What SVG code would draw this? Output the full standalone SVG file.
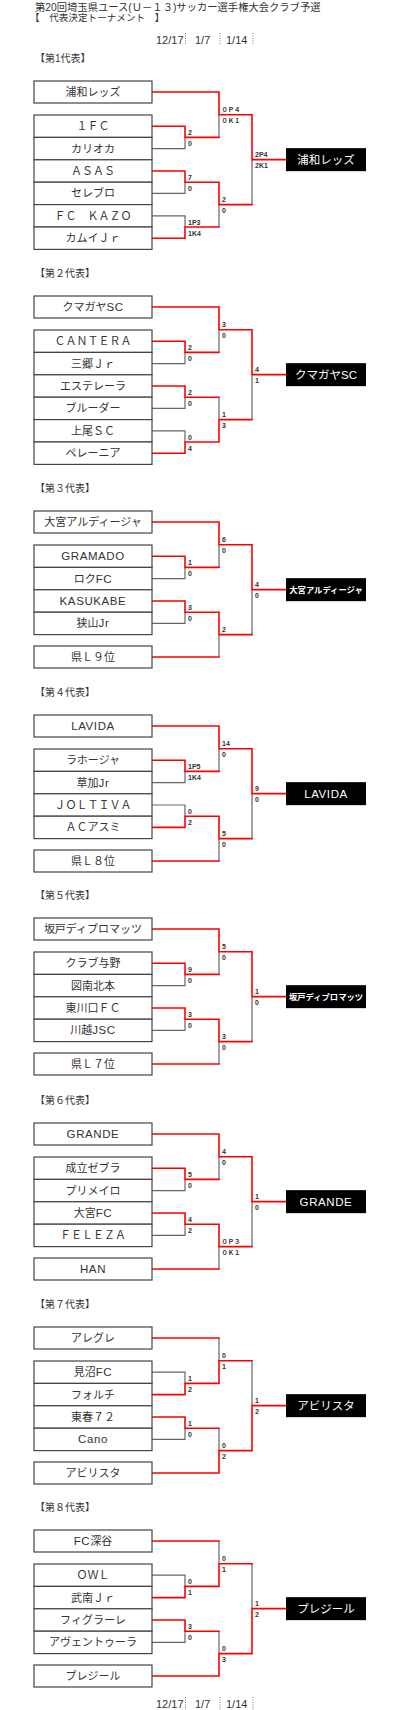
<svg xmlns="http://www.w3.org/2000/svg" width="400" height="1710" viewBox="0 0 400 1710">
<style>
text{font-family:"Liberation Sans","Noto Sans CJK JP",sans-serif;fill:#333}
.box{fill:#fff;stroke:#444;stroke-width:1.2}
.fin{fill:#000}
.t{font-size:11px;text-anchor:middle}
.l{font-size:11.5px;letter-spacing:0.6px}
.ft{font-size:11.5px;text-anchor:middle;fill:#fff}
.fs{font-size:8.3px;font-weight:bold;text-anchor:middle;fill:#fff}
.s{font-size:7px;font-weight:bold}
.w{font-size:6.3px}
.h{font-size:10px}
.d{font-size:11px}
.r{stroke:#f00;stroke-width:1.6;fill:none;stroke-linecap:square}
.g{stroke:#666;stroke-width:1.2;fill:none}
.dot{stroke:#777;stroke-width:1;stroke-dasharray:1 1.5}
</style>
<g id="title">
<text class="h" x="35" y="10.5" style="font-size:10.3px">第20回埼玉県ユース(Ｕ－１３)サッカー選手権大会クラブ予選</text>
<text class="h" x="30" y="21" style="font-size:9.6px">【　代表決定トーナメント　】</text>
</g>
<g id="dates-top">
<text class="d" x="156" y="44">12/17</text>
<text class="d" x="195" y="44">1/7</text>
<text class="d" x="226" y="44">1/14</text>
<path class="dot" d="M185.5,33V45M220,33V45M253,33V45"/>
</g>
<g id="dates-bottom">
<text class="d" x="156" y="1708">12/17</text>
<text class="d" x="195" y="1708">1/7</text>
<text class="d" x="226" y="1708">1/14</text>
<path class="dot" d="M185.5,1697V1710M220,1697V1710M253,1697V1710"/>
</g>

<g id="connectors">
<g transform="translate(0,81)">
<path class="g" d="M152,67.6H185V56.4M152,112.4H185V101.2M152,134.8H185V146M219,56.4V33.7M219,146V123.6M252,123.6V78.65"/>
<path class="r" d="M152,11H219M152,45.2H185V56.4H219M152,90H185V101.2H219M152,157.2H185V146H219M219,11V33.7H252M219,101.2V123.6H252M252,33.7V78.65H286"/>
</g>
<g transform="translate(0,296)">
<path class="g" d="M152,67.6H185V56.4M152,112.4H185V101.2M152,134.8H185V146M219,56.4V33.7M219,101.2V123.6M252,123.6V78.65"/>
<path class="r" d="M152,11H219M152,45.2H185V56.4H219M152,90H185V101.2H219M152,157.2H185V146H219M219,11V33.7H252M219,146V123.6H252M252,33.7V78.65H286"/>
</g>
<g transform="translate(0,511)">
<path class="g" d="M152,67.6H185V56.4M152,112.4H185V101.2M219,56.4V33.7M219,146V123.6M252,123.6V78.65"/>
<path class="r" d="M152,11H219M152,146H219M152,45.2H185V56.4H219M152,90H185V101.2H219M219,11V33.7H252M219,101.2V123.6H252M252,33.7V78.65H286"/>
</g>
<g transform="translate(0,715)">
<path class="g" d="M152,67.6H185V56.4M152,90H185V101.2M219,56.4V33.7M219,146V123.6M252,123.6V78.65"/>
<path class="r" d="M152,11H219M152,146H219M152,45.2H185V56.4H219M152,112.4H185V101.2H219M219,11V33.7H252M219,101.2V123.6H252M252,33.7V78.65H286"/>
</g>
<g transform="translate(0,918)">
<path class="g" d="M152,67.6H185V56.4M152,112.4H185V101.2M219,56.4V33.7M219,146V123.6M252,123.6V78.65"/>
<path class="r" d="M152,11H219M152,146H219M152,45.2H185V56.4H219M152,90H185V101.2H219M219,11V33.7H252M219,101.2V123.6H252M252,33.7V78.65H286"/>
</g>
<g transform="translate(0,1123)">
<path class="g" d="M152,67.6H185V56.4M152,112.4H185V101.2M219,56.4V33.7M219,146V123.6M252,123.6V78.65"/>
<path class="r" d="M152,11H219M152,146H219M152,45.2H185V56.4H219M152,90H185V101.2H219M219,11V33.7H252M219,101.2V123.6H252M252,33.7V78.65H286"/>
</g>
<g transform="translate(0,1327)">
<path class="g" d="M152,45.2H185V56.4M152,112.4H185V101.2M219,11V33.7M219,101.2V123.6M252,33.7V78.65"/>
<path class="r" d="M152,11H219M152,146H219M152,67.6H185V56.4H219M152,90H185V101.2H219M219,56.4V33.7H252M219,146V123.6H252M252,123.6V78.65H286"/>
</g>
<g transform="translate(0,1530)">
<path class="g" d="M152,45.2H185V56.4M152,112.4H185V101.2M219,11V33.7M219,101.2V123.6M252,33.7V78.65"/>
<path class="r" d="M152,11H219M152,146H219M152,67.6H185V56.4H219M152,90H185V101.2H219M219,56.4V33.7H252M219,146V123.6H252M252,123.6V78.65H286"/>
</g>
</g>

<g id="scores">
<g transform="translate(0,81)">
<text class="s" x="188" y="53.9">2</text><text class="s" x="188" y="64.9">0</text>
<text class="s" x="188" y="98.7">7</text><text class="s" x="188" y="109.7">0</text>
<text class="s" x="188" y="143.5">1P3</text><text class="s" x="188" y="154.5">1K4</text>
<text class="s w" x="221.5" y="31.2">０Ｐ４</text><text class="s w" x="221.5" y="42.2">０Ｋ１</text>
<text class="s" x="222" y="121.1">2</text><text class="s" x="222" y="132.1">0</text>
<text class="s" x="255" y="76.15">2P4</text><text class="s" x="255" y="87.15">2K1</text>
</g>
<g transform="translate(0,296)">
<text class="s" x="188" y="53.9">2</text><text class="s" x="188" y="64.9">0</text>
<text class="s" x="188" y="98.7">2</text><text class="s" x="188" y="109.7">0</text>
<text class="s" x="188" y="143.5">0</text><text class="s" x="188" y="154.5">4</text>
<text class="s" x="222" y="31.2">3</text><text class="s" x="222" y="42.2">0</text>
<text class="s" x="222" y="121.1">1</text><text class="s" x="222" y="132.1">3</text>
<text class="s" x="255" y="76.15">4</text><text class="s" x="255" y="87.15">1</text>
</g>
<g transform="translate(0,511)">
<text class="s" x="188" y="53.9">1</text><text class="s" x="188" y="64.9">0</text>
<text class="s" x="188" y="98.7">3</text><text class="s" x="188" y="109.7">0</text>
<text class="s" x="222" y="31.2">6</text><text class="s" x="222" y="42.2">0</text>
<text class="s" x="222" y="121.1">2</text>
<text class="s" x="255" y="76.15">4</text><text class="s" x="255" y="87.15">0</text>
</g>
<g transform="translate(0,715)">
<text class="s" x="188" y="53.9">1P5</text><text class="s" x="188" y="64.9">1K4</text>
<text class="s" x="188" y="98.7">0</text><text class="s" x="188" y="109.7">2</text>
<text class="s" x="222" y="31.2">14</text><text class="s" x="222" y="42.2">0</text>
<text class="s" x="222" y="121.1">5</text><text class="s" x="222" y="132.1">0</text>
<text class="s" x="255" y="76.15">9</text><text class="s" x="255" y="87.15">0</text>
</g>
<g transform="translate(0,918)">
<text class="s" x="188" y="53.9">9</text><text class="s" x="188" y="64.9">0</text>
<text class="s" x="188" y="98.7">3</text><text class="s" x="188" y="109.7">0</text>
<text class="s" x="222" y="31.2">5</text><text class="s" x="222" y="42.2">0</text>
<text class="s" x="222" y="121.1">3</text><text class="s" x="222" y="132.1">0</text>
<text class="s" x="255" y="76.15">1</text><text class="s" x="255" y="87.15">0</text>
</g>
<g transform="translate(0,1123)">
<text class="s" x="188" y="53.9">5</text><text class="s" x="188" y="64.9">0</text>
<text class="s" x="188" y="98.7">4</text><text class="s" x="188" y="109.7">2</text>
<text class="s" x="222" y="31.2">4</text><text class="s" x="222" y="42.2">0</text>
<text class="s w" x="221.5" y="121.1">０Ｐ３</text><text class="s w" x="221.5" y="132.1">０Ｋ１</text>
<text class="s" x="255" y="76.15">1</text><text class="s" x="255" y="87.15">0</text>
</g>
<g transform="translate(0,1327)">
<text class="s" x="188" y="53.9">1</text><text class="s" x="188" y="64.9">2</text>
<text class="s" x="188" y="98.7">1</text><text class="s" x="188" y="109.7">0</text>
<text class="s" x="222" y="31.2">0</text><text class="s" x="222" y="42.2">1</text>
<text class="s" x="222" y="121.1">0</text><text class="s" x="222" y="132.1">2</text>
<text class="s" x="255" y="76.15">1</text><text class="s" x="255" y="87.15">2</text>
</g>
<g transform="translate(0,1530)">
<text class="s" x="188" y="53.9">0</text><text class="s" x="188" y="64.9">1</text>
<text class="s" x="188" y="98.7">3</text><text class="s" x="188" y="109.7">0</text>
<text class="s" x="222" y="31.2">0</text><text class="s" x="222" y="42.2">1</text>
<text class="s" x="222" y="121.1">0</text><text class="s" x="222" y="132.1">3</text>
<text class="s" x="255" y="76.15">1</text><text class="s" x="255" y="87.15">2</text>
</g>
</g>

<g id="nodes">
<g transform="translate(0,81)">
<text class="h" x="35" y="-19">【第1代表】</text>
<g id="s1-t"><rect class="box" x="34" y="0" width="118" height="22"/><text class="t" x="93" y="15">浦和レッズ</text></g>
<g id="s1-a"><rect class="box" x="34" y="34" width="118" height="22.4"/><text class="t" x="93" y="49.2">１ＦＣ</text></g>
<g id="s1-b"><rect class="box" x="34" y="56.4" width="118" height="22.4"/><text class="t" x="93" y="71.6">カリオカ</text></g>
<g id="s1-c"><rect class="box" x="34" y="78.8" width="118" height="22.4"/><text class="t" x="93" y="94">ＡＳＡＳ</text></g>
<g id="s1-d"><rect class="box" x="34" y="101.2" width="118" height="22.4"/><text class="t" x="93" y="116.4">セレブロ</text></g>
<g id="s1-e"><rect class="box" x="34" y="123.6" width="118" height="22.4"/><text class="t" x="93" y="138.8">ＦＣ　ＫＡＺＯ</text></g>
<g id="s1-f"><rect class="box" x="34" y="146" width="118" height="22.4"/><text class="t" x="93" y="161.2">カムイＪｒ</text></g>
<g id="s1-w"><rect class="fin" x="286" y="67.15" width="80" height="23"/><text class="ft" x="326" y="82.8">浦和レッズ</text></g>
</g>
<g transform="translate(0,296)">
<text class="h" x="35" y="-19">【第２代表】</text>
<g id="s2-t"><rect class="box" x="34" y="0" width="118" height="22"/><text class="t" x="93" y="15">クマガヤ<tspan class="l">SC</tspan></text></g>
<g id="s2-a"><rect class="box" x="34" y="34" width="118" height="22.4"/><text class="t" x="93" y="49.2">ＣＡＮＴＥＲＡ</text></g>
<g id="s2-b"><rect class="box" x="34" y="56.4" width="118" height="22.4"/><text class="t" x="93" y="71.6">三郷Ｊｒ</text></g>
<g id="s2-c"><rect class="box" x="34" y="78.8" width="118" height="22.4"/><text class="t" x="93" y="94">エステレーラ</text></g>
<g id="s2-d"><rect class="box" x="34" y="101.2" width="118" height="22.4"/><text class="t" x="93" y="116.4">ブルーダー</text></g>
<g id="s2-e"><rect class="box" x="34" y="123.6" width="118" height="22.4"/><text class="t" x="93" y="138.8">上尾ＳＣ</text></g>
<g id="s2-f"><rect class="box" x="34" y="146" width="118" height="22.4"/><text class="t" x="93" y="161.2">ペレーニア</text></g>
<g id="s2-w"><rect class="fin" x="286" y="67.15" width="80" height="23"/><text class="ft" x="326" y="82.8">クマガヤSC</text></g>
</g>
<g transform="translate(0,511)">
<text class="h" x="35" y="-19">【第３代表】</text>
<g id="s3-t"><rect class="box" x="34" y="0" width="118" height="22"/><text class="t" x="93" y="15">大宮アルディージャ</text></g>
<g id="s3-a"><rect class="box" x="34" y="34" width="118" height="22.4"/><text class="t l" x="93" y="49.2">GRAMADO</text></g>
<g id="s3-b"><rect class="box" x="34" y="56.4" width="118" height="22.4"/><text class="t" x="93" y="71.6">ロク<tspan class="l">FC</tspan></text></g>
<g id="s3-c"><rect class="box" x="34" y="78.8" width="118" height="22.4"/><text class="t l" x="93" y="94">KASUKABE</text></g>
<g id="s3-d"><rect class="box" x="34" y="101.2" width="118" height="22.4"/><text class="t" x="93" y="116.4">狭山<tspan class="l">Jr</tspan></text></g>
<g id="s3-e"><rect class="box" x="34" y="135" width="118" height="22"/><text class="t" x="93" y="150">県Ｌ９位</text></g>
<g id="s3-w"><rect class="fin" x="286" y="67.15" width="80" height="23"/><text class="fs" x="326" y="81.6">大宮アルディージャ</text></g>
</g>
<g transform="translate(0,715)">
<text class="h" x="35" y="-19">【第４代表】</text>
<g id="s4-t"><rect class="box" x="34" y="0" width="118" height="22"/><text class="t l" x="93" y="15">LAVIDA</text></g>
<g id="s4-a"><rect class="box" x="34" y="34" width="118" height="22.4"/><text class="t" x="93" y="49.2">ラホージャ</text></g>
<g id="s4-b"><rect class="box" x="34" y="56.4" width="118" height="22.4"/><text class="t" x="93" y="71.6">草加<tspan class="l">Jr</tspan></text></g>
<g id="s4-c"><rect class="box" x="34" y="78.8" width="118" height="22.4"/><text class="t" x="93" y="94">ＪＯＬＴＩＶＡ</text></g>
<g id="s4-d"><rect class="box" x="34" y="101.2" width="118" height="22.4"/><text class="t" x="93" y="116.4">ＡＣアスミ</text></g>
<g id="s4-e"><rect class="box" x="34" y="135" width="118" height="22"/><text class="t" x="93" y="150">県Ｌ８位</text></g>
<g id="s4-w"><rect class="fin" x="286" y="67.15" width="80" height="23"/><text class="ft l" x="326" y="83">LAVIDA</text></g>
</g>
<g transform="translate(0,918)">
<text class="h" x="35" y="-19">【第５代表】</text>
<g id="s5-t"><rect class="box" x="34" y="0" width="118" height="22"/><text class="t" x="93" y="15">坂戸ディプロマッツ</text></g>
<g id="s5-a"><rect class="box" x="34" y="34" width="118" height="22.4"/><text class="t" x="93" y="49.2">クラブ与野</text></g>
<g id="s5-b"><rect class="box" x="34" y="56.4" width="118" height="22.4"/><text class="t" x="93" y="71.6">図南北本</text></g>
<g id="s5-c"><rect class="box" x="34" y="78.8" width="118" height="22.4"/><text class="t" x="93" y="94">東川口ＦＣ</text></g>
<g id="s5-d"><rect class="box" x="34" y="101.2" width="118" height="22.4"/><text class="t" x="93" y="116.4">川越<tspan class="l">JSC</tspan></text></g>
<g id="s5-e"><rect class="box" x="34" y="135" width="118" height="22"/><text class="t" x="93" y="150">県Ｌ７位</text></g>
<g id="s5-w"><rect class="fin" x="286" y="67.15" width="80" height="23"/><text class="fs" x="326" y="81.6">坂戸ディプロマッツ</text></g>
</g>
<g transform="translate(0,1123)">
<text class="h" x="35" y="-19">【第６代表】</text>
<g id="s6-t"><rect class="box" x="34" y="0" width="118" height="22"/><text class="t l" x="93" y="15">GRANDE</text></g>
<g id="s6-a"><rect class="box" x="34" y="34" width="118" height="22.4"/><text class="t" x="93" y="49.2">成立ゼブラ</text></g>
<g id="s6-b"><rect class="box" x="34" y="56.4" width="118" height="22.4"/><text class="t" x="93" y="71.6">プリメイロ</text></g>
<g id="s6-c"><rect class="box" x="34" y="78.8" width="118" height="22.4"/><text class="t" x="93" y="94">大宮<tspan class="l">FC</tspan></text></g>
<g id="s6-d"><rect class="box" x="34" y="101.2" width="118" height="22.4"/><text class="t" x="93" y="116.4">ＦＥＬＥＺＡ</text></g>
<g id="s6-e"><rect class="box" x="34" y="135" width="118" height="22"/><text class="t l" x="93" y="150">HAN</text></g>
<g id="s6-w"><rect class="fin" x="286" y="67.15" width="80" height="23"/><text class="ft l" x="326" y="83">GRANDE</text></g>
</g>
<g transform="translate(0,1327)">
<text class="h" x="35" y="-19">【第７代表】</text>
<g id="s7-t"><rect class="box" x="34" y="0" width="118" height="22"/><text class="t" x="93" y="15">アレグレ</text></g>
<g id="s7-a"><rect class="box" x="34" y="34" width="118" height="22.4"/><text class="t" x="93" y="49.2">見沼<tspan class="l">FC</tspan></text></g>
<g id="s7-b"><rect class="box" x="34" y="56.4" width="118" height="22.4"/><text class="t" x="93" y="71.6">フォルチ</text></g>
<g id="s7-c"><rect class="box" x="34" y="78.8" width="118" height="22.4"/><text class="t" x="93" y="94">東春７２</text></g>
<g id="s7-d"><rect class="box" x="34" y="101.2" width="118" height="22.4"/><text class="t l" x="93" y="116.4">Cano</text></g>
<g id="s7-e"><rect class="box" x="34" y="135" width="118" height="22"/><text class="t" x="93" y="150">アビリスタ</text></g>
<g id="s7-w"><rect class="fin" x="286" y="67.15" width="80" height="23"/><text class="ft" x="326" y="82.8">アビリスタ</text></g>
</g>
<g transform="translate(0,1530)">
<text class="h" x="35" y="-19">【第８代表】</text>
<g id="s8-t"><rect class="box" x="34" y="0" width="118" height="22"/><text class="t" x="93" y="15"><tspan class="l">FC</tspan>深谷</text></g>
<g id="s8-a"><rect class="box" x="34" y="34" width="118" height="22.4"/><text class="t" x="93" y="49.2">ＯＷＬ</text></g>
<g id="s8-b"><rect class="box" x="34" y="56.4" width="118" height="22.4"/><text class="t" x="93" y="71.6">武南Ｊｒ</text></g>
<g id="s8-c"><rect class="box" x="34" y="78.8" width="118" height="22.4"/><text class="t" x="93" y="94">フィグラーレ</text></g>
<g id="s8-d"><rect class="box" x="34" y="101.2" width="118" height="22.4"/><text class="t" x="93" y="116.4">アヴェントゥーラ</text></g>
<g id="s8-e"><rect class="box" x="34" y="135" width="118" height="22"/><text class="t" x="93" y="150">プレジール</text></g>
<g id="s8-w"><rect class="fin" x="286" y="67.15" width="80" height="23"/><text class="ft" x="326" y="82.8">プレジール</text></g>
</g>
</g>
</svg>
